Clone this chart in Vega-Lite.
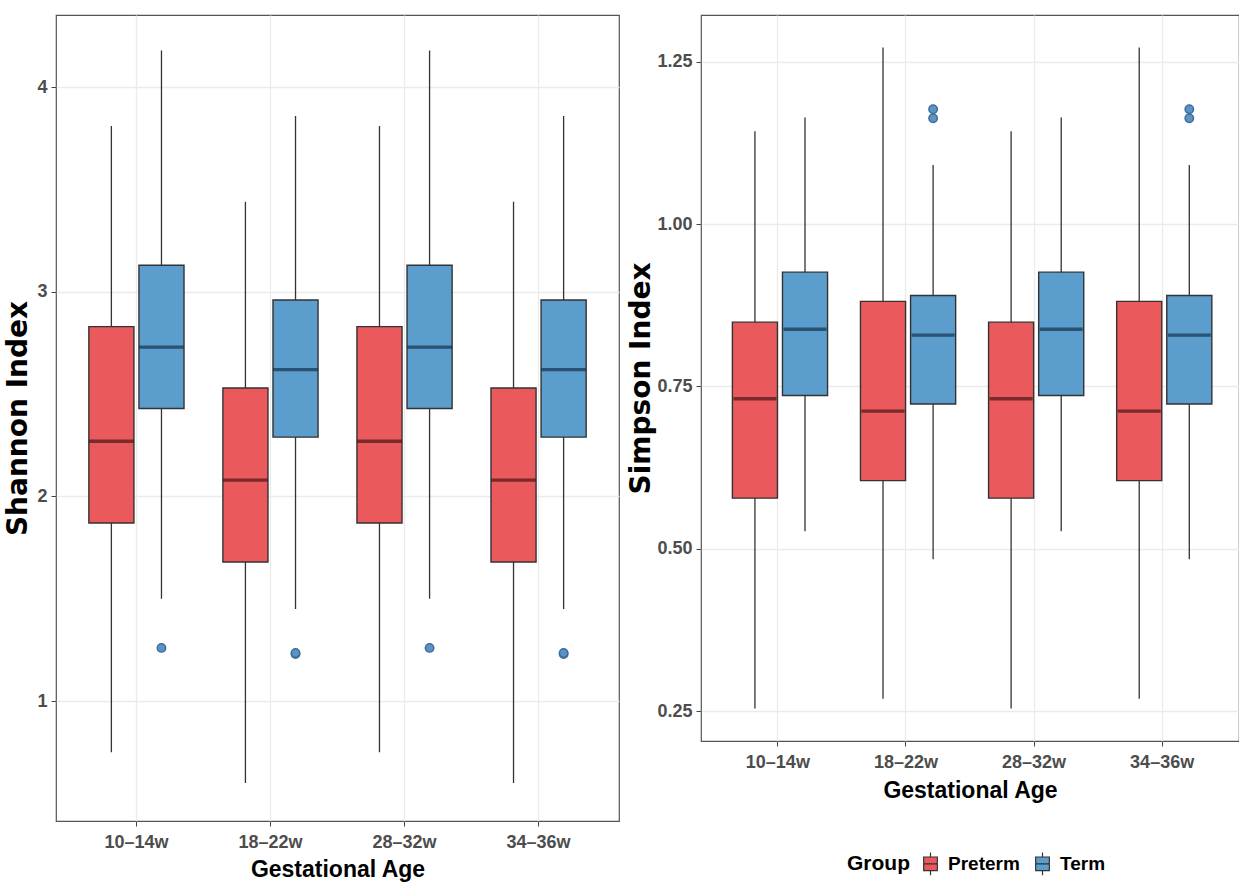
{
  "$schema": "https://vega.github.io/schema/vega-lite/v6.json",
  "background": "white",
  "padding": {"left": 4, "top": 14, "right": 0, "bottom": 0},
  "spacing": 82,
  "bounds": "flush",
  "config": {
    "view": {"stroke": "#555555", "strokeWidth": 1.2},
    "axis": {
      "labelFont": "Liberation Sans, sans-serif",
      "labelFontWeight": "bold",
      "labelColor": "#4d4d4d",
      "labelFontSize": 18,
      "titleFont": "Liberation Sans, sans-serif",
      "titleFontWeight": "bold",
      "titleColor": "#000000",
      "titleFontSize": 23,
      "gridColor": "#ebebeb",
      "gridWidth": 1.3,
      "tickColor": "#444444",
      "tickSize": 5,
      "domain": false
    },
    "legend": {
      "labelFont": "Liberation Sans, sans-serif",
      "labelFontWeight": "bold",
      "labelFontSize": 19,
      "labelColor": "#000000",
      "titleFont": "Liberation Sans, sans-serif",
      "titleFontWeight": "bold",
      "titleFontSize": 21,
      "titleColor": "#000000"
    }
  },
  "datasets": {
    "boxes": [
      {"index": "Shannon", "age": "10–14w", "group": "Preterm", "lower": 0.75, "q1": 1.87, "median": 2.27, "q3": 2.83, "upper": 3.81},
      {"index": "Shannon", "age": "10–14w", "group": "Term", "lower": 1.50, "q1": 2.43, "median": 2.73, "q3": 3.13, "upper": 4.18},
      {"index": "Shannon", "age": "18–22w", "group": "Preterm", "lower": 0.60, "q1": 1.68, "median": 2.08, "q3": 2.53, "upper": 3.44},
      {"index": "Shannon", "age": "18–22w", "group": "Term", "lower": 1.45, "q1": 2.29, "median": 2.62, "q3": 2.96, "upper": 3.86},
      {"index": "Shannon", "age": "28–32w", "group": "Preterm", "lower": 0.75, "q1": 1.87, "median": 2.27, "q3": 2.83, "upper": 3.81},
      {"index": "Shannon", "age": "28–32w", "group": "Term", "lower": 1.50, "q1": 2.43, "median": 2.73, "q3": 3.13, "upper": 4.18},
      {"index": "Shannon", "age": "34–36w", "group": "Preterm", "lower": 0.60, "q1": 1.68, "median": 2.08, "q3": 2.53, "upper": 3.44},
      {"index": "Shannon", "age": "34–36w", "group": "Term", "lower": 1.45, "q1": 2.29, "median": 2.62, "q3": 2.96, "upper": 3.86},
      {"index": "Simpson", "age": "10–14w", "group": "Preterm", "lower": 0.254, "q1": 0.578, "median": 0.731, "q3": 0.849, "upper": 1.143},
      {"index": "Simpson", "age": "10–14w", "group": "Term", "lower": 0.527, "q1": 0.736, "median": 0.838, "q3": 0.926, "upper": 1.164},
      {"index": "Simpson", "age": "18–22w", "group": "Preterm", "lower": 0.269, "q1": 0.605, "median": 0.712, "q3": 0.881, "upper": 1.272},
      {"index": "Simpson", "age": "18–22w", "group": "Term", "lower": 0.484, "q1": 0.723, "median": 0.829, "q3": 0.890, "upper": 1.091},
      {"index": "Simpson", "age": "28–32w", "group": "Preterm", "lower": 0.254, "q1": 0.578, "median": 0.731, "q3": 0.849, "upper": 1.143},
      {"index": "Simpson", "age": "28–32w", "group": "Term", "lower": 0.527, "q1": 0.736, "median": 0.838, "q3": 0.926, "upper": 1.164},
      {"index": "Simpson", "age": "34–36w", "group": "Preterm", "lower": 0.269, "q1": 0.605, "median": 0.712, "q3": 0.881, "upper": 1.272},
      {"index": "Simpson", "age": "34–36w", "group": "Term", "lower": 0.484, "q1": 0.723, "median": 0.829, "q3": 0.890, "upper": 1.091}
    ],
    "outliers": [
      {"index": "Shannon", "age": "10–14w", "group": "Term", "value": 1.26},
      {"index": "Shannon", "age": "18–22w", "group": "Term", "value": 1.23},
      {"index": "Shannon", "age": "18–22w", "group": "Term", "value": 1.235},
      {"index": "Shannon", "age": "28–32w", "group": "Term", "value": 1.26},
      {"index": "Shannon", "age": "34–36w", "group": "Term", "value": 1.23},
      {"index": "Shannon", "age": "34–36w", "group": "Term", "value": 1.235},
      {"index": "Simpson", "age": "18–22w", "group": "Term", "value": 1.163},
      {"index": "Simpson", "age": "18–22w", "group": "Term", "value": 1.177},
      {"index": "Simpson", "age": "34–36w", "group": "Term", "value": 1.163},
      {"index": "Simpson", "age": "34–36w", "group": "Term", "value": 1.177}
    ]
  },
  "resolve": {"legend": {"fill": "independent"}, "scale": {"y": "independent"}},
  "hconcat": [
    {
      "width": 563,
      "height": 806,
      "encoding": {
        "x": {"field": "age", "type": "nominal", "sort": null,
          "scale": {"paddingInner": 0.29, "paddingOuter": 0.245},
          "axis": {"title": "Gestational Age", "labelAngle": 0, "bandPosition": 0.5, "grid": true, "labelPadding": 7, "titlePadding": 7}},
        "xOffset": {"field": "group", "type": "nominal", "scale": {"domain": ["Preterm", "Term"], "paddingInner": 0.1, "paddingOuter": 0}}
      },
      "layer": [
        {
          "data": {"name": "boxes"},
          "transform": [{"filter": "datum.index === 'Shannon'"}],
          "mark": {"type": "rule", "color": "#333333", "strokeWidth": 1.3},
          "encoding": {
            "y": {"field": "lower", "type": "quantitative",
              "scale": {"domain": [0.414, 4.353], "nice": false, "zero": false},
              "axis": {"title": "Shannon Index", "values": [1, 2, 3, 4], "format": "d", "titleFont": "DejaVu Sans", "titleFontSize": 28, "titlePadding": 4, "labelPadding": 4}},
            "y2": {"field": "upper"}
          }
        },
        {
          "data": {"name": "boxes"},
          "transform": [{"filter": "datum.index === 'Shannon'"}],
          "mark": {"type": "bar", "stroke": "#333333", "strokeWidth": 1.4},
          "encoding": {
            "y": {"field": "q1", "type": "quantitative"},
            "y2": {"field": "q3"},
            "fill": {"field": "group", "type": "nominal", "scale": {"domain": ["Preterm", "Term"], "range": ["#ea5a5c", "#5b9dcd"]}, "legend": null}
          }
        },
        {
          "data": {"name": "boxes"},
          "transform": [{"filter": "datum.index === 'Shannon'"}],
          "mark": {"type": "tick", "orient": "horizontal", "size": 45, "thickness": 3.4},
          "encoding": {
            "y": {"field": "median", "type": "quantitative"},
            "color": {"condition": {"test": "datum.group === 'Preterm'", "value": "#4a1618"}, "value": "#15324c"}
          }
        },
        {
          "data": {"name": "outliers"},
          "transform": [{"filter": "datum.index === 'Shannon'"}],
          "mark": {"type": "point", "filled": true, "size": 70, "fill": "#5b93c4", "stroke": "#3c6d98", "strokeWidth": 1.5, "opacity": 1},
          "encoding": {
            "y": {"field": "value", "type": "quantitative"}
          }
        }
      ]
    },
    {
      "width": 538,
      "height": 726,
      "encoding": {
        "x": {"field": "age", "type": "nominal", "sort": null,
          "scale": {"paddingInner": 0.29, "paddingOuter": 0.245},
          "axis": {"title": "Gestational Age", "labelAngle": 0, "bandPosition": 0.5, "grid": true, "labelPadding": 7, "titlePadding": 8}},
        "xOffset": {"field": "group", "type": "nominal", "scale": {"domain": ["Preterm", "Term"], "paddingInner": 0.1, "paddingOuter": 0}}
      },
      "layer": [
        {
          "data": {"name": "boxes"},
          "transform": [{"filter": "datum.index === 'Simpson'"}],
          "mark": {"type": "rule", "color": "#333333", "strokeWidth": 1.3},
          "encoding": {
            "y": {"field": "lower", "type": "quantitative",
              "scale": {"domain": [0.204, 1.322], "nice": false, "zero": false},
              "axis": {"title": "Simpson Index", "values": [0.25, 0.5, 0.75, 1, 1.25], "format": ".2f", "titleFont": "DejaVu Sans", "titleFontSize": 28, "titlePadding": 1, "labelPadding": 4}},
            "y2": {"field": "upper"}
          }
        },
        {
          "data": {"name": "boxes"},
          "transform": [{"filter": "datum.index === 'Simpson'"}],
          "mark": {"type": "bar", "stroke": "#333333", "strokeWidth": 1.4},
          "encoding": {
            "y": {"field": "q1", "type": "quantitative"},
            "y2": {"field": "q3"},
            "fill": {"field": "group", "type": "nominal", "scale": {"domain": ["Preterm", "Term"], "range": ["#ea5a5c", "#5b9dcd"]},
              "legend": {"orient": "none", "legendX": 146, "legendY": 836, "direction": "horizontal", "title": "Group", "titleOrient": "left", "titlePadding": 8,
                "symbolType": "M-0.6,-0.6H0.6V0.6H-0.6Z M-0.6,0H0.6 M0,-0.6V-1 M0,0.6V1", "symbolSize": 520, "symbolStrokeColor": "#333333", "symbolStrokeWidth": 1.2, "symbolOpacity": 1, "labelOffset": 5, "columnPadding": 10}}
          }
        },
        {
          "data": {"name": "boxes"},
          "transform": [{"filter": "datum.index === 'Simpson'"}],
          "mark": {"type": "tick", "orient": "horizontal", "size": 43, "thickness": 3.4},
          "encoding": {
            "y": {"field": "median", "type": "quantitative"},
            "color": {"condition": {"test": "datum.group === 'Preterm'", "value": "#4a1618"}, "value": "#15324c"}
          }
        },
        {
          "data": {"name": "outliers"},
          "transform": [{"filter": "datum.index === 'Simpson'"}],
          "mark": {"type": "point", "filled": true, "size": 70, "fill": "#5b93c4", "stroke": "#3c6d98", "strokeWidth": 1.5, "opacity": 1},
          "encoding": {
            "y": {"field": "value", "type": "quantitative"}
          }
        }
      ]
    }
  ]
}
